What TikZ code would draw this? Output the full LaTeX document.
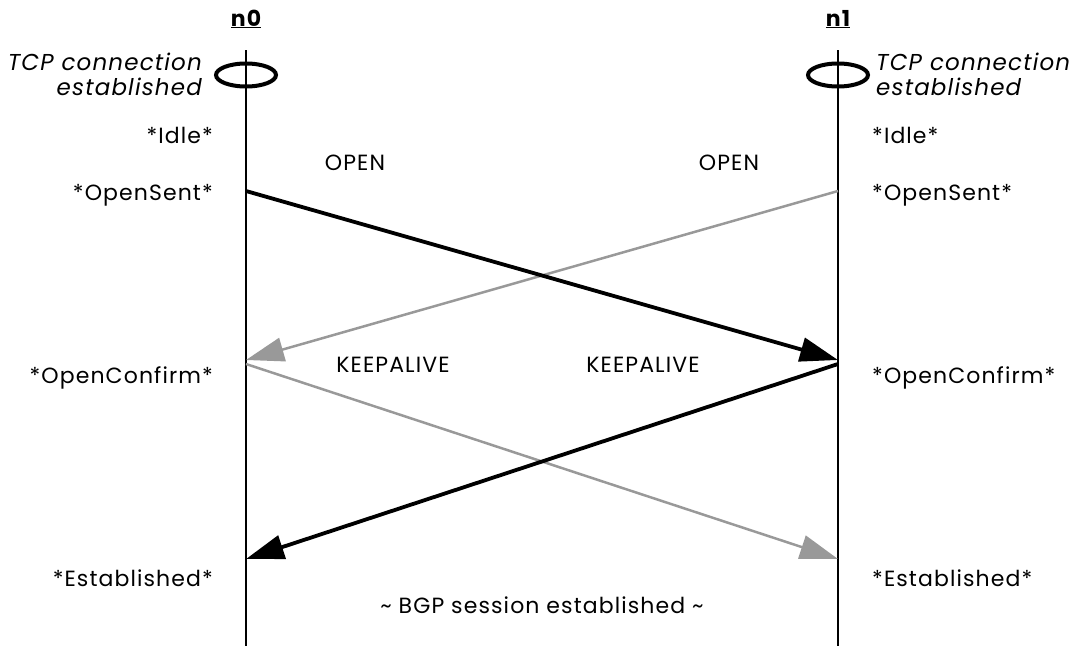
\documentclass[tikz,border=0pt]{standalone}
\usepackage{fontspec}
\setmainfont{Poppins}[LetterSpace=5]
\usetikzlibrary{arrows.meta,shapes.geometric}
\definecolor{msggrey}{HTML}{999999}
\begin{document}
\begin{tikzpicture}[x=1pt,y=-1pt,
  lbl/.style={font=\fontsize{22}{26}\selectfont, inner sep=0pt},
  tcp/.style={font=\fontsize{23}{25}\selectfont\itshape, inner sep=0pt, align=#1},
  life/.style={line width=1.8pt},
  hdr/.style={font=\fontsize{22}{26}\selectfont\bfseries, inner sep=0pt},
  blackmsg/.style={line width=3.8pt, -{Triangle[length=38pt,width=24pt]}},
  greymsg/.style={line width=2.5pt, msggrey, -{Triangle[length=38pt,width=24pt]}},
  ring/.style={draw, line width=4pt, ellipse, minimum width=60pt, minimum height=23pt, inner sep=0pt}
]
\useasboundingbox (0,0) rectangle (1077,646);
% headers
\node[hdr] (h0) at (246,19) {\underline{n0}};
\node[hdr] (h1) at (838,19) {\underline{n1}};
% lifelines
\coordinate (t0) at (246,50);
\coordinate (b0) at (246,646);
\coordinate (t1) at (838,50);
\coordinate (b1) at (838,646);
\draw[life] (t0) -- (b0);
\draw[life] (t1) -- (b1);
% rings
\node[ring] (r0) at (246,75) {};
\node[ring] (r1) at (838,75) {};
\node[tcp=right, anchor=east] (tc0) at (202,74) {TCP connection\\established};
\node[tcp=left, anchor=west] (tc1) at (876,74) {TCP connection\\established};
% states
\node[lbl, anchor=east] (i0) at (213,135) {*Idle*};
\node[lbl, anchor=west] (i1) at (872,135) {*Idle*};
\node[lbl, anchor=east] (s0) at (213,195) {*OpenSent*};
\node[lbl, anchor=west] (s1) at (872,195) {*OpenSent*};
\node[lbl, anchor=east] (c0) at (213,378) {*OpenConfirm*};
\node[lbl, anchor=west] (c1) at (872,378) {*OpenConfirm*};
\node[lbl, anchor=east] (e0) at (213,578) {*Established*};
\node[lbl, anchor=west] (e1) at (872,578) {*Established*};
% message endpoints
\coordinate (o0) at (246,191);
\coordinate (o1) at (838,191);
\coordinate (oa0) at (246,360);
\coordinate (oa1) at (838,360);
\coordinate (k0) at (246,364);
\coordinate (k1) at (838,364);
\coordinate (ka0) at (246,559);
\coordinate (ka1) at (838,559);
\draw[greymsg] (o1) -- (oa0);
\draw[blackmsg] (o0) -- (oa1);
\draw[greymsg] (k0) -- (ka1);
\draw[blackmsg] (k1) -- (ka0);
% message labels
\node[lbl] (m1) at (355,163) {OPEN};
\node[lbl] (m2) at (729,163) {OPEN};
\node[lbl] (m3) at (393,365) {KEEPALIVE};
\node[lbl] (m4) at (643,365) {KEEPALIVE};
\node[lbl] (bgp) at (542,605) {\textasciitilde\ BGP session established \textasciitilde};
\end{tikzpicture}
\end{document}
